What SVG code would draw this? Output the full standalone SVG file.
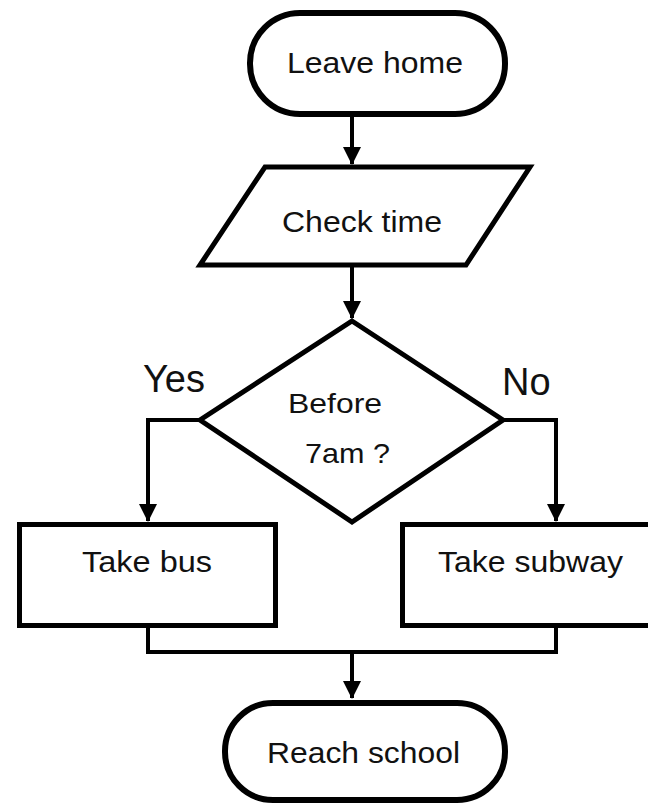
<svg xmlns="http://www.w3.org/2000/svg" width="648" height="805" viewBox="0 0 648 805">
  <defs>
    <style>
      .shape { fill: #fff; stroke: #000; stroke-width: 5; stroke-linejoin: miter; }
      .term { fill: #fff; stroke: #000; stroke-width: 6; }
      .conn { fill: none; stroke: #000; stroke-width: 4; }
      .lbl { font-family: "Liberation Sans", Arial, sans-serif; fill: #111; }
      .node { font-size: 29px; text-anchor: middle; }
      .branch { font-size: 38px; }
    </style>
    <marker id="arrow" markerUnits="userSpaceOnUse" markerWidth="18" markerHeight="18" viewBox="0 0 18 18" refX="17" refY="9" orient="auto">
      <path d="M0 0 L18 9 L0 18 Z" fill="#000"/>
    </marker>
  </defs>
  <rect width="648" height="805" fill="#fff"/>

  <g id="connectors">
    <path class="conn" d="M352 117 V164" marker-end="url(#arrow)"/>
    <path class="conn" d="M352 267 V318" marker-end="url(#arrow)"/>
    <path class="conn" d="M200 420 H148 V521" marker-end="url(#arrow)"/>
    <path class="conn" d="M503 420 H556 V521" marker-end="url(#arrow)"/>
    <path class="conn" d="M148 628 V652 H556 V628"/>
    <path class="conn" d="M352 652 V698" marker-end="url(#arrow)"/>
  </g>

  <g id="leave-home">
    <rect class="term" x="250" y="13" width="255" height="101" rx="50" ry="50"/>
    <text class="lbl node" x="375" y="73" textLength="176" lengthAdjust="spacingAndGlyphs">Leave home</text>
  </g>

  <g id="check-time">
    <polygon class="shape" points="265,167 530,167 466,265 200,265"/>
    <text class="lbl node" x="362" y="232" font-size="28" textLength="160" lengthAdjust="spacingAndGlyphs">Check time</text>
  </g>

  <g id="decision">
    <polygon class="shape" points="352,321 503,420 352,522 200,420"/>
    <text class="lbl" x="288" y="413" font-size="28" textLength="94" lengthAdjust="spacingAndGlyphs">Before</text>
    <text class="lbl" x="305" y="463" font-size="28" textLength="85" lengthAdjust="spacingAndGlyphs">7am ?</text>
  </g>

  <g id="label-yes">
    <text class="lbl branch" x="143" y="392">Yes</text>
  </g>
  <g id="label-no">
    <text class="lbl branch" x="502" y="395">No</text>
  </g>

  <g id="take-bus">
    <rect class="shape" x="19.5" y="524.5" width="256" height="101"/>
    <text class="lbl node" x="147" y="572" font-size="30" textLength="130" lengthAdjust="spacingAndGlyphs">Take bus</text>
  </g>

  <g id="take-subway">
    <rect class="shape" x="402.5" y="524.5" width="260" height="101"/>
    <text class="lbl node" x="530.5" y="572" font-size="30" textLength="185" lengthAdjust="spacingAndGlyphs">Take subway</text>
  </g>

  <g id="reach-school">
    <rect class="term" x="225" y="703" width="280" height="97" rx="48" ry="48"/>
    <text class="lbl node" x="363.5" y="763" textLength="193" lengthAdjust="spacingAndGlyphs">Reach school</text>
  </g>
</svg>
